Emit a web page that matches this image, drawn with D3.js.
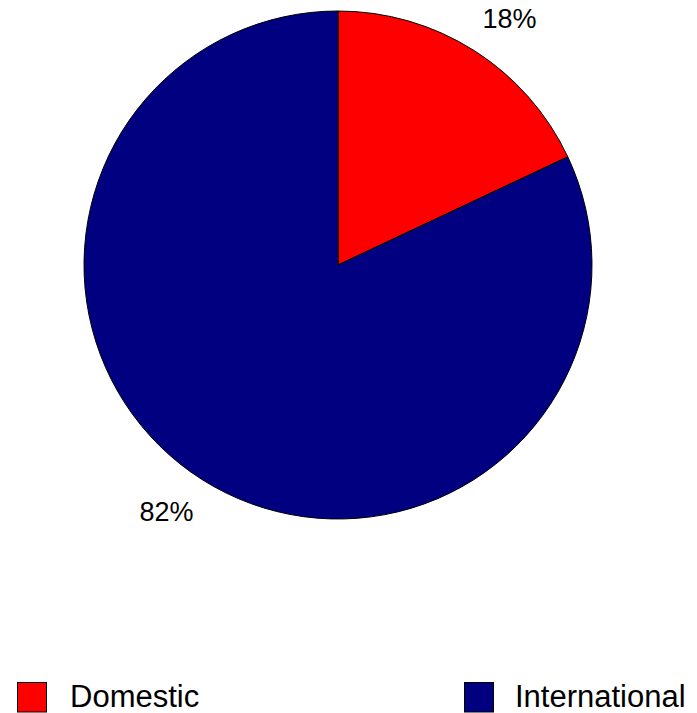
<!DOCTYPE html>
<html><head><meta charset="utf-8">
<script src="https://cdn.jsdelivr.net/npm/d3@7"></script>
<style>body{margin:0;background:#fff}svg{display:block}</style>
</head><body>
<svg id="c" width="697" height="713"></svg>
<script>
const categories = ["Domestic", "International"];
const values = [18, 82];
const colors = ["#ff0000", "#000080"];
const labels = ["18%", "82%"];

const svg = d3.select("#c");
const cx = 338, cy = 265, r = 254;
const g = svg.append("g").attr("transform", `translate(${cx},${cy})`);
const pie = d3.pie().sort(null).value(d => d)(values);
const arc = d3.arc().innerRadius(0).outerRadius(r);
const color = d3.scaleOrdinal().domain(categories).range(colors);

g.selectAll("path").data(pie).join("path")
  .attr("d", arc)
  .attr("fill", (d, i) => color(categories[i]))
  .attr("stroke", "#000").attr("stroke-width", 1);

g.selectAll("text").data(pie).join("text")
  .attr("x", d => 320 * Math.sin((d.startAngle + d.endAngle) / 2))
  .attr("y", d => -292 * Math.cos((d.startAngle + d.endAngle) / 2))
  .attr("text-anchor", "middle").attr("dy", "0.35em")
  .attr("font-family", "Liberation Sans, Arial, sans-serif").attr("font-size", 27)
  .text((d, i) => labels[i]);

const legX = [17.5, 464.5];
const lg = svg.selectAll("g.leg").data(categories).join("g").attr("class", "leg")
  .attr("transform", (d, i) => `translate(${legX[i]},682)`);
lg.append("rect").attr("x", 0).attr("y", 0.5).attr("width", 29).attr("height", 29.5)
  .attr("fill", d => color(d)).attr("stroke", "#000").attr("stroke-width", 1);
lg.append("text").attr("x", (d, i) => i === 0 ? 52.5 : 50.5).attr("y", 24.5)
  .attr("font-family", "Liberation Sans, Arial, sans-serif").attr("font-size", 31)
  .text(d => d);
</script>
</body></html>
